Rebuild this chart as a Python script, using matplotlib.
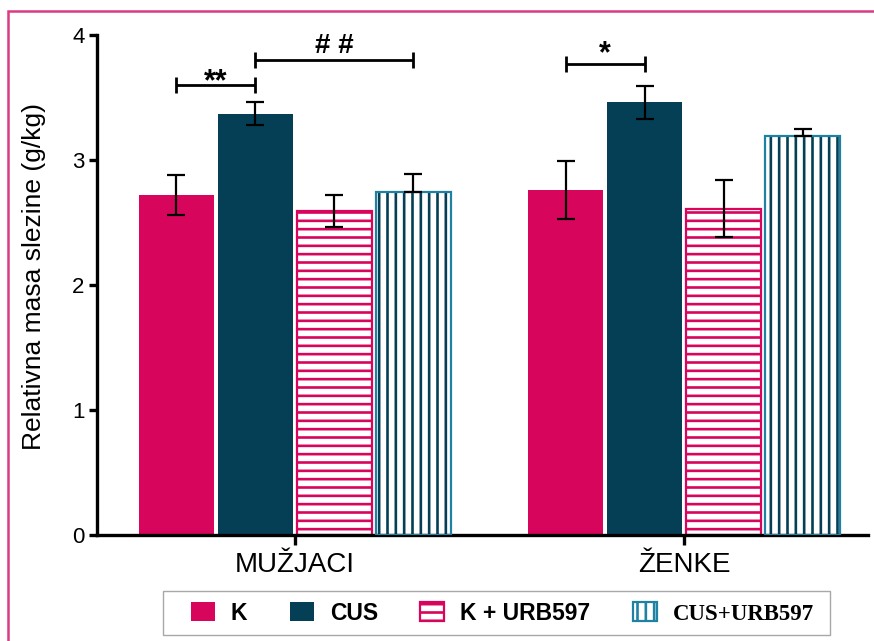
import numpy as np
import matplotlib
matplotlib.use("Agg")
import matplotlib.pyplot as plt
from matplotlib.patches import Patch, Rectangle

plt.rcParams["font.family"] = ["Liberation Sans", "DejaVu Sans"]
plt.rcParams["hatch.linewidth"] = 1.9

# ---- data ----
groups = ["MUŽJACI", "ŽENKE"]
series = ["K", "CUS", "K + URB597", "CUS+URB597"]
means = {
    "K":          [2.72, 2.76],
    "CUS":        [3.37, 3.46],
    "K + URB597": [2.59, 2.61],
    "CUS+URB597": [2.74, 3.19],
}
errors = {
    "K":          [0.16, 0.23],
    "CUS":        [0.09, 0.13],
    "K + URB597": [0.13, 0.23],
    "CUS+URB597": [0.15, 0.06],
}
y_ticks = [0, 1, 2, 3, 4]
y_label = "Relativna masa slezine (g/kg)"

# significance brackets: (group, first series, second series, level, label)
brackets = [
    (0, 0, 1, 3.60, "**"),
    (0, 1, 3, 3.80, "# #"),
    (1, 0, 1, 3.77, "*"),
]
# label baseline offset above each bracket (points) and font size
bracket_text_style = [(-4.0, 22), (5.0, 20), (1.0, 22)]

# ---- style ----
PINK = "#d8055c"
NAVY = "#053f56"
TEAL = "#1f82a3"
step = 0.203
width = 0.193
offsets = (np.arange(4) - 1.5) * step
xg = np.arange(len(groups))

fig = plt.figure(figsize=(8.74, 6.41), dpi=100)
ax = fig.add_axes([0.111, 0.1654, 0.882, 0.780])

handles = []
for i, s in enumerate(series):
    x = xg + offsets[i]
    m = np.array(means[s])
    e = np.array(errors[s])
    if s == "K":
        ax.bar(x, m, width, color=PINK, edgecolor="none", zorder=2)
        yerr = e
        handles.append(Patch(facecolor=PINK, edgecolor="none"))
    elif s == "CUS":
        ax.bar(x, m, width, color=NAVY, edgecolor="none", zorder=2)
        yerr = e
        handles.append(Patch(facecolor=NAVY, edgecolor="none"))
    elif s == "K + URB597":
        ax.bar(x, m, width, facecolor="white", edgecolor=PINK,
               hatch="--", linewidth=1.6, zorder=2)
        yerr = e
        handles.append(Patch(facecolor="white", edgecolor=PINK, hatch="--",
                             linewidth=1.6))
    else:
        ax.bar(x, m, width, facecolor="white", edgecolor=NAVY,
               hatch="||", linewidth=0, zorder=2)
        ax.bar(x, m, width, fill=False, edgecolor=TEAL, linewidth=1.6,
               zorder=3)
        yerr = [np.zeros_like(e), e]
        handles.append(Patch(facecolor="white", edgecolor=TEAL, hatch="||",
                             linewidth=1.6))
    ax.errorbar(x, m, yerr=yerr, fmt="none", ecolor="black",
                elinewidth=1.6, capsize=6.5, capthick=1.6, zorder=4)

# significance brackets
tick_h = 0.065
for (g, a, b, lvl, lab), (dy, fs) in zip(brackets, bracket_text_style):
    x0 = xg[g] + offsets[a]
    x1 = xg[g] + offsets[b]
    ax.plot([x0, x1], [lvl, lvl], color="black", lw=2.0, zorder=5,
            solid_capstyle="butt")
    for xx in (x0, x1):
        ax.plot([xx, xx], [lvl - tick_h, lvl + tick_h], color="black",
                lw=2.0, zorder=5, solid_capstyle="butt")
    ax.annotate(lab, ((x0 + x1) / 2, lvl), xytext=(0, dy),
                textcoords="offset points", ha="center", va="baseline",
                fontsize=fs, fontweight="bold", zorder=5)

ax.set_xlim(-0.508, 1.472)
ax.set_ylim(0, 4)
ax.set_yticks(y_ticks)
ax.set_yticklabels([str(t) for t in y_ticks])
ax.set_xticks(xg)
ax.set_xticklabels(groups)
ax.set_ylabel(y_label, fontsize=19)
ax.yaxis.set_label_coords(-0.066, 0.517)

for side in ("top", "right"):
    ax.spines[side].set_visible(False)
for side in ("left", "bottom"):
    ax.spines[side].set_linewidth(2.4)
ax.tick_params(axis="y", length=6, width=2.4, labelsize=16, pad=3)
ax.tick_params(axis="x", length=7, width=2.4, labelsize=20, pad=5)

# legend below the axes, with its own frame box
leg = fig.legend(handles, series, loc="center", ncol=4,
                 bbox_to_anchor=(502.5 / 874, 1 - 613 / 641), frameon=False,
                 prop={"size": 16.5, "weight": "bold"},
                 handlelength=1.05, handleheight=0.85, handletextpad=0.7,
                 columnspacing=1.85, borderpad=0.3)
leg.get_texts()[3].set_fontfamily("Liberation Serif")
fig.add_artist(Rectangle((163 / 874, 1 - 635 / 641), (830 - 163) / 874,
                         44 / 641, transform=fig.transFigure, fill=False,
                         edgecolor="#a8a8a8", linewidth=1.0))

# pink page frame
fig.add_artist(Rectangle((8 / 874, -0.1), 1.2, 1 - 11 / 641 + 0.1,
                         transform=fig.transFigure, fill=False,
                         edgecolor="#dc3a82", linewidth=1.8))

fig.savefig("out.png", dpi=100)
